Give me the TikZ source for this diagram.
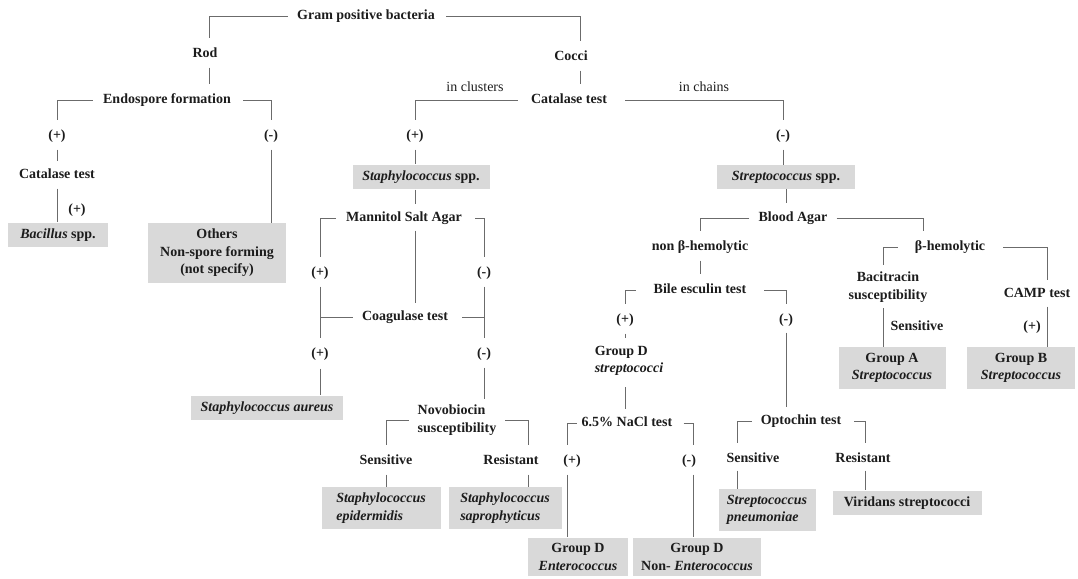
\documentclass[tikz,border=0pt]{standalone}
\usepackage{fontspec}
\setmainfont{Liberation Serif}
\definecolor{Wire}{HTML}{6B6B6B}
\definecolor{BoxFill}{HTML}{D9D9D9}
\definecolor{Ink}{HTML}{1C1C1C}
\tikzset{
  lbl/.style={font=\bfseries\fontsize{14}{17.5}\selectfont,text=Ink,inner sep=2pt,text height=10pt,text depth=3pt},
  lbltwo/.style={font=\bfseries\fontsize{14}{17.5}\selectfont,text=Ink,inner sep=2pt,align=center},
  note/.style={font=\fontsize{14}{17.5}\selectfont,text=Ink,inner sep=2pt},
  res/.style={fill=BoxFill,font=\bfseries\fontsize{14}{17.5}\selectfont,text=Ink,inner xsep=8pt,inner ysep=6pt,align=center},
  link/.style={draw=Wire,line width=.9pt,shorten <=7pt,shorten >=7pt},
  linkbox/.style={link,shorten >=0pt}
}
\begin{document}
\begin{tikzpicture}[x=1pt,y=-1pt]
  \useasboundingbox (0,0) rectangle (1078,578);
  % top of the tree
  \node[lbl] (gpb) at (366,16) {Gram positive bacteria};
  \node[lbl] (rod) at (205,54) {Rod};
  \node[lbl] (cocci) at (571,57) {Cocci};
  \draw[link] (gpb.west) -| ([xshift=4pt]rod.north);
  \draw[link,shorten <=9pt] (gpb.east) -| ([xshift=9pt]cocci.north);

  % rods
  \node[lbl] (endo) at (167,100) {Endospore formation};
  \node[lbl] (endoP) at (57,136) {(+)};
  \node[lbl] (endoN) at (271,136) {(-)};
  \node[lbl] (catr) at (57,175) {Catalase test};
  \node[lbl] (catrP) at (77,210) {(+)};
  \node[res,minimum width=100pt] (bacillus) at (58,235) {\textit{Bacillus} spp.};
  \node[res,minimum width=138pt] (others) at (217,253) {Others\\Non-spore forming\\(not specify)};
  \draw[link,shorten <=5pt] ([xshift=4pt]rod.south) -- ([xshift=4pt]rod.south |- endo.north);
  \draw[link,shorten <=8pt] (endo.west) -| (endoP.north);
  \draw[link,shorten <=10pt] (endo.east) -| (endoN.north);
  \draw[link,shorten <=5pt,shorten >=5pt] (endoP.south) -- (catr.north);
  \draw[linkbox,shorten <=5pt] (catr.south) -- (catr.south |- bacillus.north);
  \draw[linkbox,shorten <=5pt] (endoN.south) -- (endoN.south |- others.north);

  % cocci
  \node[lbl] (catc) at (569,100) {Catalase test};
  \node[note] (clus) at (475,87) {in clusters};
  \node[note] (chain) at (704,87) {in chains};
  \node[lbl] (catcP) at (415,136) {(+)};
  \node[lbl] (catcN) at (783,136) {(-)};
  \node[res,minimum width=137pt] (staph) at (421,177) {\textit{Staphylococcus} spp.};
  \node[res,minimum width=138pt] (strep) at (786,177) {\textit{Streptococcus} spp.};
  \draw[link,shorten <=5pt] ([xshift=9pt]cocci.south) -- ([xshift=9pt]cocci.south |- catc.north);
  \draw[link,shorten <=11pt] (catc.west) -| (catcP.north);
  \draw[link,shorten <=16pt] (catc.east) -| (catcN.north);
  \draw[linkbox,shorten <=5pt] (catcP.south) -- (catcP.south |- staph.north);
  \draw[linkbox,shorten <=5pt] (catcN.south) -- (catcN.south |- strep.north);

  % staphylococci
  \node[lbl] (msa) at (404,218) {Mannitol Salt Agar};
  \node[lbl] (msaP) at (320,273) {(+)};
  \node[lbl] (msaN) at (484,273) {(-)};
  \node[lbl] (coag) at (405,317) {Coagulase test};
  \node[lbl] (coagP) at (320,354) {(+)};
  \node[lbl] (coagN) at (484,354) {(-)};
  \node[res,minimum width=152pt] (aureus) at (267,408) {\textit{Staphylococcus aureus}};
  \node[lbltwo,align=left] (novo) at (457,420) {Novobiocin\\susceptibility};
  \node[lbl] (novoS) at (386,461) {Sensitive};
  \node[lbl] (novoR) at (511,461) {Resistant};
  \node[res,align=left,minimum width=119pt] (epi) at (381,508) {\textit{Staphylococcus}\\\textit{epidermidis}};
  \node[res,align=left,minimum width=113pt] (sapro) at (505,508) {\textit{Staphylococcus}\\\textit{saprophyticus}};
  \draw[link,shorten <=0pt,shorten >=5pt] ([xshift=-6pt]staph.south) -- ([xshift=-6pt]staph.south |- msa.north);
  \draw[link,shorten <=8pt] (msa.west) -| (msaP.north);
  \draw[link,shorten <=11pt] (msa.east) -| (msaN.north);
  \draw[link,shorten <=4pt,shorten >=5pt] ([xshift=11pt]msa.south) -- ([xshift=11pt]msa.south |- coag.north);
  \draw[link,shorten <=5pt] (msaP.south) -- (msaP.south |- coagP.north);
  \draw[link,shorten <=5pt] (msaN.south) -- (msaN.south |- coagN.north);
  \draw[link,shorten >=0pt] (coag.west) -- (coag.west -| msaP.south);
  \draw[link,shorten <=12pt,shorten >=0pt] (coag.east) -- (coag.east -| msaN.south);
  \draw[linkbox,shorten <=6pt] (coagP.south) -- (coagP.south |- aureus.north);
  \draw[link,shorten <=5pt,shorten >=4pt] (coagN.south) -- (coagN.south |- novo.north);
  \draw[link] (novo.west) -| (novoS.north);
  \draw[link] (novo.east) -| ([xshift=17pt]novoR.north);
  \draw[linkbox,shorten <=5pt] (novoS.south) -- (novoS.south |- epi.north);
  \draw[linkbox,shorten <=5pt] ([xshift=17pt]novoR.south) -- ([xshift=17pt]novoR.south |- sapro.north);

  % streptococci
  \node[lbl] (blood) at (793,218) {Blood Agar};
  \node[lbl] (nonb) at (700,247) {non β-hemolytic};
  \node[lbl] (beta) at (950,247) {β-hemolytic};
  \node[lbl] (bile) at (700,290) {Bile esculin test};
  \node[lbl] (bileP) at (625,320) {(+)};
  \node[lbl] (bileN) at (786,320) {(-)};
  \node[lbltwo,align=left] (grpd) at (629,361) {Group D\\\textit{streptococci}};
  \node[lbl] (nacl) at (627,423) {6.5\% NaCl test};
  \node[lbl] (naclP) at (572,461) {(+)};
  \node[lbl] (naclN) at (689,461) {(-)};
  \node[res,minimum width=100pt] (entero) at (578,557) {Group D\\\textit{Enterococcus}};
  \node[res,minimum width=121pt] (nonent) at (697,557) {Group D\\Non- \textit{Enterococcus}};
  \node[lbl] (opto) at (801,421) {Optochin test};
  \node[lbl] (optoS) at (753,459) {Sensitive};
  \node[lbl] (optoR) at (863,459) {Resistant};
  \node[res,align=left,minimum width=97pt] (pneu) at (767,510) {\textit{Streptococcus}\\\textit{pneumoniae}};
  \node[res,minimum width=149pt] (virid) at (907,503) {Viridans streptococci};
  \node[lbltwo] (baci) at (888,287) {Bacitracin\\susceptibility};
  \node[lbl] (baciS) at (917,327) {Sensitive};
  \node[lbl] (camp) at (1037,294) {CAMP test};
  \node[lbl] (campP) at (1032,327) {(+)};
  \node[res,minimum width=107pt] (grpa) at (892,368) {Group A\\\textit{Streptococcus}};
  \node[res,minimum width=108pt] (grpb) at (1021,368) {Group B\\\textit{Streptococcus}};
  \draw[link,shorten <=0pt,shorten >=6pt] (strep.south) -- (strep.south |- blood.north);
  \draw[link] (blood.west) -| (nonb.north);
  \draw[link] (blood.east) -| ([xshift=-27pt]beta.north);
  \draw[link,shorten <=5pt] (nonb.south) -- (bile.north);
  \draw[link,shorten <=16pt] (bile.west) -| (bileP.north);
  \draw[link,shorten <=16pt] (bile.east) -| (bileN.north);
  \draw[link,shorten <=5pt,shorten >=6pt] (bileP.south) -- (bileP.south |- grpd.north);
  \draw[link,shorten <=9pt,shorten >=5pt] ([xshift=-4pt]grpd.south) -- ([xshift=-4pt]grpd.south |- nacl.north);
  \draw[link,shorten <=3pt] (nacl.west) -| ([xshift=-5pt]naclP.north);
  \draw[link,shorten <=9pt] (nacl.east) -| ([xshift=4pt]naclN.north);
  \draw[linkbox,shorten <=5pt] ([xshift=-5pt]naclP.south) -- ([xshift=-5pt]naclP.south |- entero.north);
  \draw[linkbox,shorten <=5pt] ([xshift=4pt]naclN.south) -- ([xshift=4pt]naclN.south |- nonent.north);
  \draw[link,shorten <=4pt,shorten >=5pt] (bileN.south) -- (bileN.south |- opto.north);
  \draw[link] (opto.west) -| ([xshift=-16pt]optoS.north);
  \draw[link,shorten <=11pt] (opto.east) -| ([xshift=2pt]optoR.north);
  \draw[linkbox,shorten <=3pt] ([xshift=-16pt]optoS.south) -- ([xshift=-16pt]optoS.south |- pneu.north);
  \draw[linkbox,shorten <=3pt] ([xshift=2pt]optoR.south) -- ([xshift=2pt]optoR.south |- virid.north);
  \draw[link,shorten <=15pt,shorten >=5pt] (beta.west) -| ([xshift=-5pt]baci.north);
  \draw[link,shorten <=16pt,shorten >=5pt] (beta.east) -| ([xshift=10pt]camp.north);
  \draw[linkbox,shorten <=4pt] ([xshift=-5pt]baci.south) -- ([xshift=-5pt]baci.south |- grpa.north);
  \draw[linkbox,shorten <=4pt] ([xshift=10pt]camp.south) -- ([xshift=10pt]camp.south |- grpb.north);
\end{tikzpicture}
\end{document}
